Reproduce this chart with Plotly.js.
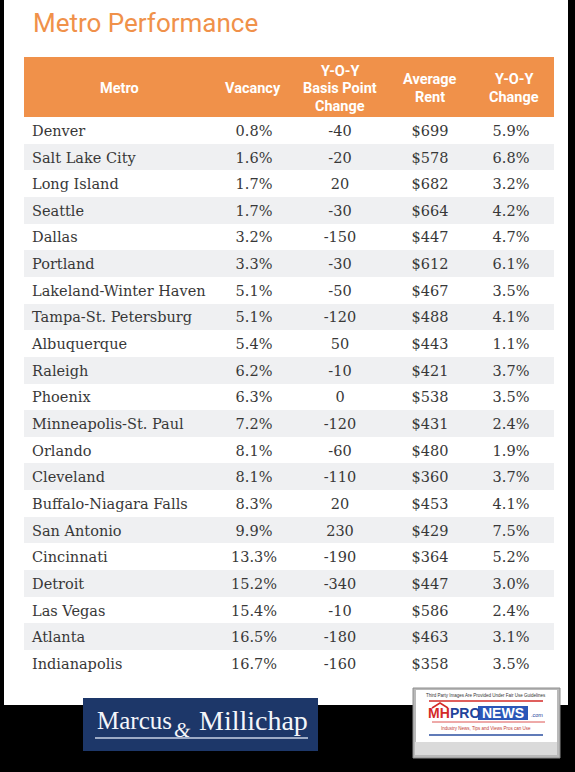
<!DOCTYPE html>
<html>
<head>
<meta charset="utf-8">
<script src="https://cdn.plot.ly/plotly-3.0.1.min.js"></script>
<style>html,body{margin:0;padding:0;background:#000;}#chart{width:575px;height:772px;}</style>
</head>
<body>
<div id="chart"></div>
<script>
// ---- data ----
const chartTitle = "Metro Performance";
const headerLabels = ["Metro", "Vacancy", "Y-O-Y<br>Basis Point<br>Change", "Average<br>Rent", "Y-O-Y<br>Change"];
const metros = ["Denver","Salt Lake City","Long Island","Seattle","Dallas","Portland","Lakeland-Winter Haven","Tampa-St. Petersburg","Albuquerque","Raleigh","Phoenix","Minneapolis-St. Paul","Orlando","Cleveland","Buffalo-Niagara Falls","San Antonio","Cincinnati","Detroit","Las Vegas","Atlanta","Indianapolis"];
const vacancy = ["0.8%","1.6%","1.7%","1.7%","3.2%","3.3%","5.1%","5.1%","5.4%","6.2%","6.3%","7.2%","8.1%","8.1%","8.3%","9.9%","13.3%","15.2%","15.4%","16.5%","16.7%"];
const bpChange = ["-40","-20","20","-30","-150","-30","-50","-120","50","-10","0","-120","-60","-110","20","230","-190","-340","-10","-180","-160"];
const avgRent = ["$699","$578","$682","$664","$447","$612","$467","$488","$443","$421","$538","$431","$480","$360","$453","$429","$364","$447","$586","$463","$358"];
const yoyChange = ["5.9%","6.8%","3.2%","4.2%","4.7%","6.1%","3.5%","4.1%","1.1%","3.7%","3.5%","2.4%","1.9%","3.7%","4.1%","7.5%","5.2%","3.0%","2.4%","3.1%","3.5%"];
const logoWords = ["Marcus", "&amp;", "Millichap"];
const watermarkTop = "Third Party Images Are Provided Under Fair Use Guidelines";
const watermarkParts = ["MH", "PRO", "NEWS", ".com"];
const watermarkTag = "Industry News, Tips and Views Pros can Use";

// ---- geometry helpers ----
const W = 575, H = 772;
const px = x => x / W;
const py = y => 1 - y / H;

const ORANGE = "#F0914A";
const SERIF = "'DejaVu Serif', 'Liberation Serif', serif";
const SANS = "Roboto, 'Liberation Sans', sans-serif";
const colWidths = [196, 68, 104, 76, 86];
const tableLeft = 24, tableTop = 57, headerH = 60, rowH = 26.65;
const tableRight = tableLeft + colWidths.reduce((a, b) => a + b, 0);
const rowColors = metros.map((_, i) => i % 2 ? "#EFF0F2" : "#FFFFFF");

const table = {
  type: "table",
  domain: {x: [px(tableLeft), px(tableRight)], y: [py(700), py(tableTop)]},
  columnwidth: colWidths,
  header: {
    values: headerLabels.map(() => ""),
    height: headerH,
    fill: {color: ORANGE},
    line: {color: ORANGE, width: 0}
  },
  cells: {
    values: [metros, vacancy, bpChange, avgRent, yoyChange],
    height: rowH,
    align: ["left", "center", "center", "center", "center"],
    fill: {color: [rowColors]},
    line: {color: [rowColors], width: 0},
    font: {family: SERIF, size: 14.5, color: "#383838"}
  }
};

// column centres for header labels
const centres = [119, 253, 340, 430, 514];
const headFont = {family: SANS, size: 14.5, color: "#FFFFFF"};
const headMid = tableTop + headerH / 2 + 1.5, headLine = 17.5;
const annotations = [];
headerLabels.forEach((t, i) => {
  const lines = t.split("<br>");
  lines.forEach((ln, j) => {
    annotations.push({
      xref: "paper", yref: "paper", x: px(centres[i]),
      y: py(headMid + (j - (lines.length - 1) / 2) * headLine),
      xanchor: "center", yanchor: "middle", showarrow: false,
      text: "<b>" + ln + "</b>", font: headFont
    });
  });
});

annotations.push({
  xref: "paper", yref: "paper", x: px(31), y: py(23), xanchor: "left", yanchor: "middle",
  showarrow: false, text: chartTitle,
  font: {family: SANS, size: 26, color: ORANGE}
});

// Marcus & Millichap logo
const logoFont = {family: "'Liberation Serif', serif", size: 28, color: "#F4F6FA"};
annotations.push(
  {xref: "paper", yref: "paper", x: px(95), y: py(720), xanchor: "left", yanchor: "middle", showarrow: false,
   text: logoWords[0], font: Object.assign({}, logoFont, {size: 25})},
  {xref: "paper", yref: "paper", x: px(182), y: py(730), xanchor: "center", yanchor: "middle", showarrow: false,
   text: "<i>" + logoWords[1] + "</i>", font: Object.assign({}, logoFont, {size: 21})},
  {xref: "paper", yref: "paper", x: px(310), y: py(720), xanchor: "right", yanchor: "middle", showarrow: false,
   text: logoWords[2], font: logoFont}
);

// MHProNews watermark texts
const wmFont = {family: "'Liberation Sans', Roboto, sans-serif", size: 14, weight: 700};
annotations.push(
  {xref: "paper", yref: "paper", x: px(486), y: py(695.5), xanchor: "center", yanchor: "middle", showarrow: false,
   text: watermarkTop, font: {family: "'Liberation Sans', sans-serif", size: 4.5, color: "#333"}},
  {xref: "paper", yref: "paper", x: px(452), y: py(713), xanchor: "right", yanchor: "middle", showarrow: false,
   text: "<b>" + watermarkParts[0] + "</b>", font: Object.assign({}, wmFont, {color: "#D42A27"})},
  {xref: "paper", yref: "paper", x: px(465), y: py(713), xanchor: "center", yanchor: "middle", showarrow: false,
   text: "<b>" + watermarkParts[1] + "</b>", font: Object.assign({}, wmFont, {color: "#22439A"})},
  {xref: "paper", yref: "paper", x: px(503), y: py(713), xanchor: "center", yanchor: "middle", showarrow: false,
   text: "<b>" + watermarkParts[2] + "</b>", font: Object.assign({}, wmFont, {color: "#FFFFFF"})},
  {xref: "paper", yref: "paper", x: px(529), y: py(715), xanchor: "left", yanchor: "middle", showarrow: false,
   text: watermarkParts[3], font: {family: "'Liberation Sans', sans-serif", size: 5.5, color: "#22439A"}},
  {xref: "paper", yref: "paper", x: px(486), y: py(728), xanchor: "center", yanchor: "middle", showarrow: false,
   text: watermarkTag, font: {family: "'Liberation Sans', sans-serif", size: 4.5, color: "#C23A33"}}
);

const shapes = [
  // white panel
  {type: "rect", layer: "below", xref: "paper", yref: "paper", x0: px(4), x1: px(568), y0: py(705), y1: py(0),
   fillcolor: "#FFFFFF", line: {width: 0}},
  // Marcus & Millichap box
  {type: "rect", xref: "paper", yref: "paper", x0: px(83), x1: px(318), y0: py(751), y1: py(698),
   fillcolor: "#1D3769", line: {width: 0}},
  {type: "line", xref: "paper", yref: "paper", x0: px(95), x1: px(308), y0: py(738), y1: py(738),
   line: {color: "#C9D3E6", width: 1.5}},
  // MHProNews watermark
  {type: "rect", xref: "paper", yref: "paper", x0: px(413), x1: px(560), y0: py(758), y1: py(688),
   fillcolor: "#B9B9B9", line: {color: "#8E8E8E", width: 1}},
  {type: "rect", xref: "paper", yref: "paper", x0: px(415), x1: px(557), y0: py(755), y1: py(742),
   fillcolor: "#DADADA", line: {width: 0}},
  {type: "rect", xref: "paper", yref: "paper", x0: px(416), x1: px(557), y0: py(742), y1: py(690),
   fillcolor: "#FFFFFF", line: {width: 0}},
  {type: "line", xref: "paper", yref: "paper", x0: px(429), x1: px(543), y0: py(701), y1: py(701),
   line: {color: "#D42A27", width: 1.5}},
  {type: "rect", xref: "paper", yref: "paper", x0: px(478), x1: px(528), y0: py(720), y1: py(706),
   fillcolor: "#2B57B8", line: {width: 0}},
  {type: "path", xref: "paper", yref: "paper",
   path: `M ${px(432)} ${py(708)} L ${px(440)} ${py(703)} L ${px(448)} ${py(708)}`,
   line: {color: "#D42A27", width: 1.5}},
  {type: "line", xref: "paper", yref: "paper", x0: px(432), x1: px(545), y0: py(722), y1: py(722),
   line: {color: "#D42A27", width: 0.8}},
  {type: "line", xref: "paper", yref: "paper", x0: px(429), x1: px(543), y0: py(735), y1: py(735),
   line: {color: "#2B4FA0", width: 1.5}}
];

const layout = {
  width: W, height: H,
  margin: {l: 0, r: 0, t: 0, b: 0},
  paper_bgcolor: "#000000",
  plot_bgcolor: "#000000",
  showlegend: false,
  shapes: shapes,
  annotations: annotations
};

Plotly.newPlot("chart", [table], layout, {displayModeBar: false, staticPlot: true});
</script>
</body>
</html>
